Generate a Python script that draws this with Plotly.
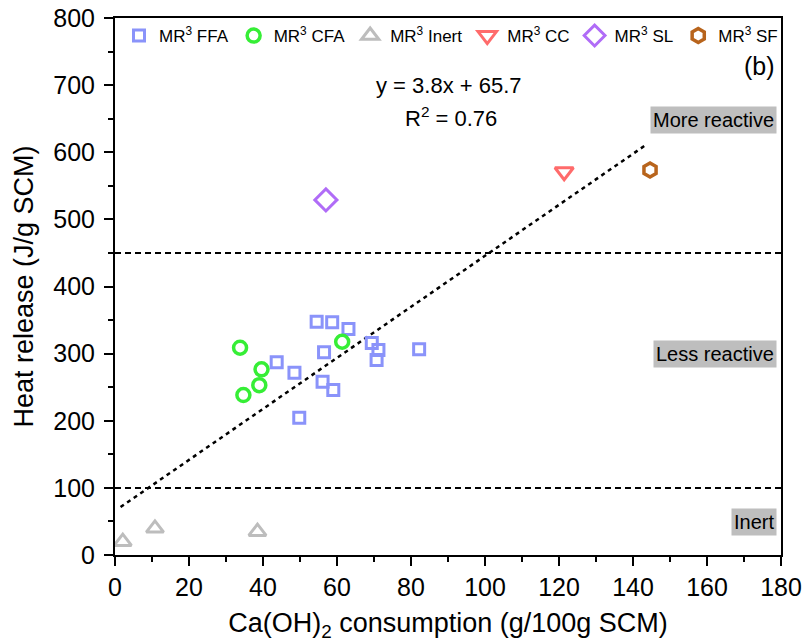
import plotly.graph_objects as go

# ---- data ----
ffa_x = [54.5, 58.7, 63.1, 56.5, 43.7, 48.5, 56.1, 59.0, 49.8, 69.4, 71.2, 70.7, 82.2]
ffa_y = [347.5, 346.6, 336.7, 302.0, 287.0, 271.6, 258.0, 245.8, 204.5, 316.0, 305.4, 290.5, 306.4]
cfa_x = [33.8, 39.6, 39.0, 34.7, 61.4]
cfa_y = [308.8, 276.6, 253.0, 238.3, 317.7]
inert_x = [2.1, 10.8, 38.5]
inert_y = [19.8, 39.7, 34.7]
cc_x = [121.4]
cc_y = [571.0]
sl_x = [57.0]
sl_y = [529.0]
sf_x = [144.6]
sf_y = [573.5]

fit_slope = 3.8
fit_intercept = 65.7
fit_x = [1.5, 143.7]
fit_y = [fit_slope * v + fit_intercept for v in fit_x]

thresholds = [100, 450]
zone_labels = ["More reactive", "Less reactive", "Inert"]
zone_label_y = [648, 300, 49]

FONT = "Liberation Sans, Arial, sans-serif"

series = [
    ("MR<sup>3</sup> FFA", ffa_x, ffa_y, "square-open", 11, 3, "#8A93FA"),
    ("MR<sup>3</sup> CFA", cfa_x, cfa_y, "circle-open", 13, 3.5, "#36EE36"),
    ("MR<sup>3</sup> Inert", inert_x, inert_y, "triangle-up-open", 15, 3, "#BDBDBD"),
    ("MR<sup>3</sup> CC", cc_x, cc_y, "triangle-down-open", 16, 3, "#FF6B6B"),
    ("MR<sup>3</sup> SL", sl_x, sl_y, "diamond-open", 17, 3, "#B06CF7"),
    ("MR<sup>3</sup> SF", sf_x, sf_y, "hexagon-open", 14, 3.5, "#B8641C"),
]

fig = go.Figure()

fig.add_trace(go.Scatter(
    x=fit_x, y=fit_y, mode="lines", showlegend=False,
    line=dict(color="black", width=2.5, dash="4px,4px"), hoverinfo="skip"))

for name, xs, ys, sym, size, lw, col in series:
    fig.add_trace(go.Scatter(
        x=xs, y=ys, mode="markers", name=name,
        marker=dict(symbol=sym, size=size, color=col, line=dict(color=col, width=lw))))

for t in thresholds:
    fig.add_shape(type="line", xref="paper", x0=0, x1=1, yref="y", y0=t, y1=t,
                  line=dict(color="black", width=2, dash="6px,4px"))

for lab, yy in zip(zone_labels, zone_label_y):
    fig.add_annotation(text=lab, xref="paper", x=1, xanchor="right", xshift=-4,
                       yref="y", y=yy, yanchor="middle", showarrow=False, bgcolor="#BEBEBE",
                       borderpad=2, font=dict(family=FONT, size=20, color="black"))

fig.add_annotation(text="y = 3.8x + 65.7", xref="x", yref="paper", x=90.4, y=(555 - 86) / 537,
                   xanchor="center", yanchor="middle",
                   showarrow=False, font=dict(family=FONT, size=22, color="black"))
fig.add_annotation(text="R<sup>2</sup> = 0.76", xref="x", yref="paper", x=90.8, y=(555 - 117) / 537,
                   xanchor="center", yanchor="middle",
                   showarrow=False, font=dict(family=FONT, size=22, color="black"))
fig.add_annotation(text="(b)", xref="paper", yref="paper", x=1, xanchor="right", xshift=-4,
                   y=(555 - 66) / 537, yanchor="middle", showarrow=False,
                   font=dict(family=FONT, size=25, color="black"))

axis_common = dict(
    showline=True, linecolor="black", linewidth=2, mirror=True,
    ticks="outside", ticklen=9, tickwidth=2, tickcolor="black",
    showgrid=False, zeroline=False, automargin=False,
    ticklabeloverflow="allow",
    tickfont=dict(family=FONT, size=25, color="black"),
)

fig.update_xaxes(range=[0, 180], dtick=20, tick0=0,
                 minor=dict(ticks="outside", dtick=10, ticklen=5, tickwidth=2, tickcolor="black"),
                 title=dict(text="Ca(OH)<sub>2</sub> consumption (g/100g SCM)",
                            font=dict(family=FONT, size=27, color="black"), standoff=13),
                 **axis_common)
fig.update_yaxes(range=[0, 800], dtick=100, tick0=0,
                 minor=dict(ticks="outside", dtick=50, ticklen=5, tickwidth=2, tickcolor="black"),
                 title=dict(text="Heat release (J/g SCM)",
                            font=dict(family=FONT, size=27, color="black"), standoff=12),
                 ticklabelstandoff=4,
                 **axis_common)

fig.update_layout(
    template="none",
    width=807, height=642,
    margin=dict(l=115, r=26, t=18, b=87, autoexpand=False),
    plot_bgcolor="white", paper_bgcolor="white",
    font=dict(family=FONT, color="black"),
    legend=dict(orientation="h", x=4 / 666, xanchor="left", y=1.0, yanchor="top",
                bgcolor="rgba(0,0,0,0)", font=dict(family=FONT, size=17, color="black"),
                itemsizing="trace"),
)

fig.write_html("out.html", config={"displayModeBar": False},
               post_script="document.body.style.margin='0';document.body.style.overflow='hidden';")
